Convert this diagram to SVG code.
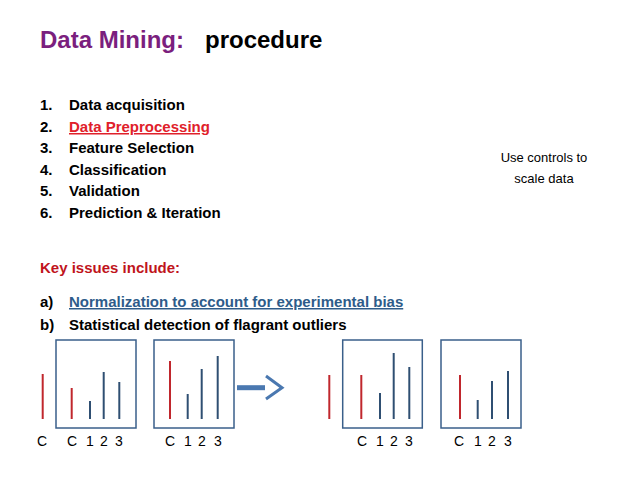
<svg xmlns="http://www.w3.org/2000/svg" width="638" height="479" viewBox="0 0 638 479">
<style>
text{font-family:"Liberation Sans",Arial,sans-serif;}
.b{font-weight:bold;font-size:15px;fill:#000}
.box{fill:none;stroke:#3a5f8a;stroke-width:1.5}
.r{stroke:#c0272d;stroke-width:2}
.n{stroke:#2f4f72;stroke-width:2}
.lab{font-size:14px;fill:#000}
</style>
<rect width="638" height="479" fill="#fff"/>
<g id="title"><text x="40" y="48" font-size="24" font-weight="bold" fill="#7b1f7e">Data Mining:<tspan x="205" fill="#000">procedure</tspan></text></g>
<g id="list" class="b">
<text class="b" x="40" y="110">1.</text><text class="b" x="69" y="110">Data acquisition</text>
<text class="b" x="40" y="132">2.</text><text class="b" x="69" y="132" fill="#e0202a" text-decoration="underline" style="fill:#e0202a">Data Preprocessing</text>
<text class="b" x="40" y="153">3.</text><text class="b" x="69" y="153">Feature Selection</text>
<text class="b" x="40" y="175">4.</text><text class="b" x="69" y="175">Classification</text>
<text class="b" x="40" y="196">5.</text><text class="b" x="69" y="196">Validation</text>
<text class="b" x="40" y="218">6.</text><text class="b" x="69" y="218">Prediction &amp; Iteration</text>
</g>
<g id="note"><text x="544" y="162" font-size="13" text-anchor="middle">Use controls to</text><text x="544" y="183" font-size="13" text-anchor="middle">scale data</text></g>
<g id="issues">
<text class="b" x="40" y="273" style="fill:#c0141c">Key issues include:</text>
<text class="b" x="40" y="307">a)</text><text class="b" x="69" y="307" text-decoration="underline" style="fill:#2e5c8a">Normalization to account for experimental bias</text>
<text class="b" x="40" y="330">b)</text><text class="b" x="69" y="330">Statistical detection of flagrant outliers</text>
</g>
<g id="raw">
<line class="r" x1="42.7" y1="374" x2="42.7" y2="419"/>
<text class="lab" x="42" y="446" text-anchor="middle">C</text>
</g>
<g id="box1">
<rect class="box" x="56" y="340" width="80" height="88"/>
<line class="r" x1="71.7" y1="388" x2="71.7" y2="419"/>
<line class="n" x1="90" y1="401" x2="90" y2="419"/>
<line class="n" x1="103.7" y1="372" x2="103.7" y2="419"/>
<line class="n" x1="119.3" y1="382" x2="119.3" y2="419"/>
<text class="lab" x="72" y="446" text-anchor="middle">C</text><text class="lab" x="90" y="446" text-anchor="middle">1</text><text class="lab" x="104" y="446" text-anchor="middle">2</text><text class="lab" x="119" y="446" text-anchor="middle">3</text>
</g>
<g id="box2">
<rect class="box" x="154" y="340" width="80" height="88"/>
<line class="r" x1="170" y1="361" x2="170" y2="419"/>
<line class="n" x1="187.7" y1="394" x2="187.7" y2="419"/>
<line class="n" x1="201.7" y1="369" x2="201.7" y2="419"/>
<line class="n" x1="217.7" y1="356" x2="217.7" y2="419"/>
<text class="lab" x="170" y="446" text-anchor="middle">C</text><text class="lab" x="188" y="446" text-anchor="middle">1</text><text class="lab" x="202" y="446" text-anchor="middle">2</text><text class="lab" x="218" y="446" text-anchor="middle">3</text>
</g>
<g id="connectors">
<line x1="237" y1="387.7" x2="265" y2="387.7" stroke="#4a78b0" stroke-width="5"/>
<polyline points="266,376 282,387.7 266,399" fill="none" stroke="#4a78b0" stroke-width="3"/>
</g>
<g id="raw2"><line class="r" x1="329.3" y1="375" x2="329.3" y2="419"/></g>
<g id="box3">
<rect class="box" x="342.7" y="340" width="79.6" height="88"/>
<line class="r" x1="361.3" y1="375" x2="361.3" y2="419"/>
<line class="n" x1="380" y1="393" x2="380" y2="419"/>
<line class="n" x1="393.7" y1="353" x2="393.7" y2="419"/>
<line class="n" x1="409.3" y1="367" x2="409.3" y2="419"/>
<text class="lab" x="362" y="446" text-anchor="middle">C</text><text class="lab" x="380" y="446" text-anchor="middle">1</text><text class="lab" x="394" y="446" text-anchor="middle">2</text><text class="lab" x="409" y="446" text-anchor="middle">3</text>
</g>
<g id="box4">
<rect class="box" x="441" y="340" width="80" height="88"/>
<line class="r" x1="460" y1="375" x2="460" y2="419"/>
<line class="n" x1="477.7" y1="400" x2="477.7" y2="419"/>
<line class="n" x1="492" y1="381" x2="492" y2="419"/>
<line class="n" x1="508" y1="371" x2="508" y2="419"/>
<text class="lab" x="459" y="446" text-anchor="middle">C</text><text class="lab" x="478" y="446" text-anchor="middle">1</text><text class="lab" x="492" y="446" text-anchor="middle">2</text><text class="lab" x="508" y="446" text-anchor="middle">3</text>
</g>
</svg>
